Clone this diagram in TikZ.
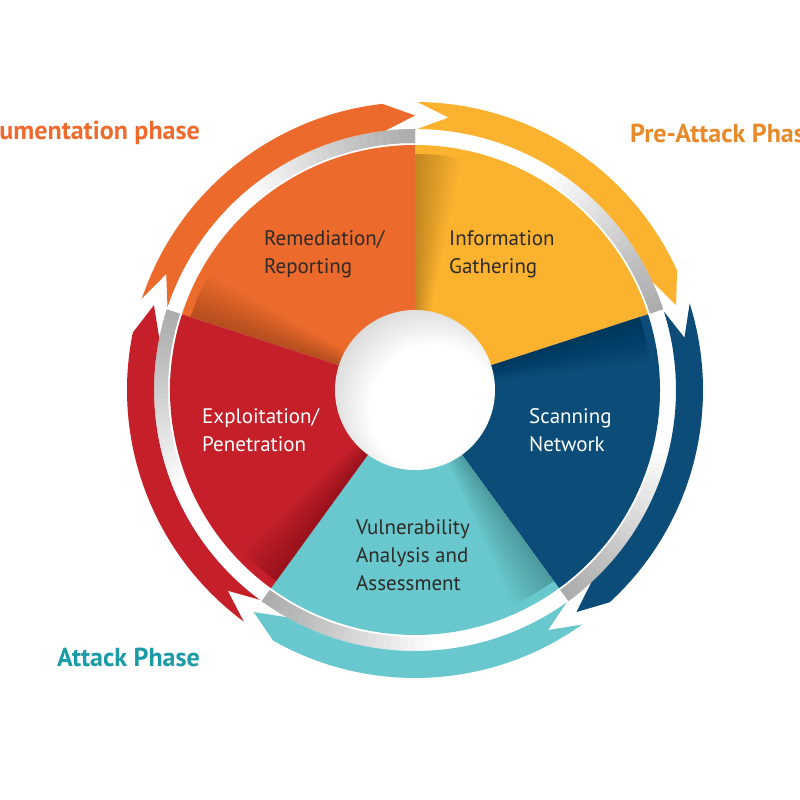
\documentclass[tikz,border=0pt]{standalone}
\usepackage{fontspec}
\setmainfont{PT Sans}
\definecolor{orng}{HTML}{EB6A2C}
\definecolor{yel}{HTML}{FBB22F}
\definecolor{blu}{HTML}{0B4D78}
\definecolor{tea}{HTML}{68C8CD}
\definecolor{rd}{HTML}{C5202A}
\definecolor{txtdark}{HTML}{2E2A27}
\definecolor{docorange}{HTML}{EE6B2D}
\definecolor{preorange}{HTML}{E98A2A}
\definecolor{attteal}{HTML}{1B9BA6}
\pgfdeclareradialshading{hub}{\pgfpoint{10bp}{-10bp}}{color(0bp)=(white); color(20bp)=(white); color(50bp)=(black!40)}
\tikzset{
  lbl/.style={inner sep=0pt, align=left, anchor=west, font=\fontsize{21}{28}\selectfont},
  phase/.style={inner sep=0pt, font=\bfseries\fontsize{26}{30}\selectfont}
}
\begin{document}
\begin{tikzpicture}[x=1pt,y=1pt]
\useasboundingbox (-415,-410) rectangle (385,390);
\clip (-415,-410) rectangle (385,390);
\fill[white] (-415,-410) rectangle (385,390);
% ring shadows near arrow heads
\foreach \b in {90,18,-54,-126,162}{
  \foreach \k in {1,...,22}{
    \pgfmathsetmacro\e{\b+1.8*\k}
    \fill[black,opacity=0.014] (\b:247pt) arc[start angle=\b, end angle=\e, radius=247pt]
      -- (\e:261pt) arc[start angle=\e, end angle=\b, radius=261pt] -- cycle;
  }
}
% arrow bands
\foreach \c/\b in {orng/90, yel/18, blu/-54, tea/-126, rd/162}{
  \pgfmathsetmacro\T{\b+71.5}
  \pgfmathsetmacro\Hb{\b+6.5}
  \pgfmathsetmacro\Tn{\T-6.5}
  \fill[\c] (\T:288pt) arc[start angle=\T, end angle=\Hb, radius=288pt]
    -- (\b:274.5pt) -- (\Hb:261pt) arc[start angle=\Hb, end angle=\T, radius=261pt]
    -- (\Tn:274.5pt) -- cycle;
}
% sectors
\foreach \c/\b in {orng/90, yel/18, blu/-54, tea/-126, rd/162}{
  \pgfmathsetmacro\e{\b+72}
  \fill[\c] (0,0) -- (\b:245pt) arc[start angle=\b, end angle=\e, radius=245pt] -- cycle;
  \foreach \k in {1,...,14}{
    \pgfmathsetmacro\s{\e-0.8*\k}
    \fill[black,opacity=0.016] (0,0) -- (\s:236pt) arc[start angle=\s, end angle=\e, radius=236pt] -- cycle;
  }
}
% hub
\shade[shading=hub] (0,0) circle (80pt);
% labels
\node[lbl, text=txtdark] (rem) at (-151,136) {Remediation/\\Reporting};
\node[lbl, text=txtdark] (info) at (34,136) {Information\\Gathering};
\node[lbl, text=white] (scan) at (114,-40) {Scanning\\Network};
\node[lbl, text=white] (expl) at (-213,-40) {Exploitation/\\Penetration};
\node[lbl, text=txtdark] (vuln) at (-59,-165) {Vulnerability\\Analysis and\\Assessment};
% phase labels
\node[phase, text=docorange, anchor=east] (doc) at (-215,257) {Documentation phase};
\node[phase, text=preorange, anchor=west] (pre) at (215,257) {Pre-Attack Phase};
\node[phase, text=attteal, anchor=west] (att) at (-358,-267) {Attack Phase};
\end{tikzpicture}
\end{document}
